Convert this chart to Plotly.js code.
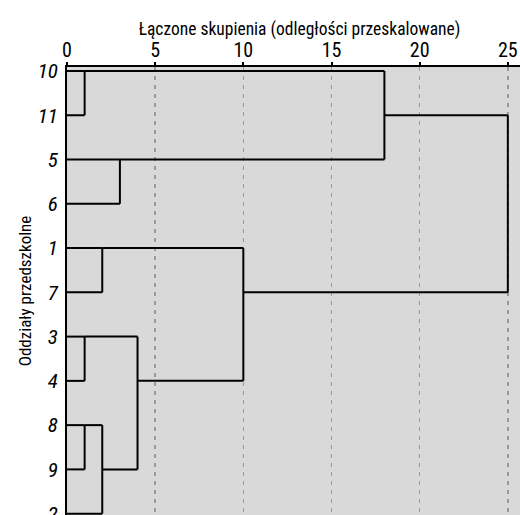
<!DOCTYPE html>
<html>
<head>
<meta charset="utf-8">
<script src="https://cdn.plot.ly/plotly-3.0.1.min.js"></script>
<style>html,body{margin:0;padding:0;background:#fff;overflow:hidden}#chart{width:520px;height:515px}</style>
</head>
<body>
<div id="chart"></div>
<script>
// Leaf labels in display order (top to bottom)
const leafLabels = ['10','11','5','6','1','7','3','4','8','9','2'];
// Merges: [left cluster, right cluster, distance, row where merged cluster is drawn]
const mergeLeft   = ['10','3','8','1','C','5','B','D','A','I'];
const mergeRight  = ['11','4','9','7','2','6','E','G','F','H'];
const mergeName   = ['A','B','C','D','E','F','G','H','I','J'];
const mergeDist   = [1, 1, 1, 2, 2, 3, 4, 10, 18, 25];
const mergeRowOf  = ['10','3','8','1','9','5','4','7','11', null];
const xTicks = [0, 5, 10, 15, 20, 25];

const FONT = '"Roboto Condensed", "DejaVu Sans Condensed", sans-serif';

const clusters = {};
leafLabels.forEach((l, i) => { clusters[l] = {y: i, h: 0}; });

const xs = [], ys = [];
function seg(x0, y0, x1, y1) { xs.push(x0, x1, null); ys.push(y0, y1, null); }
for (let k = 0; k < mergeName.length; k++) {
  const a = clusters[mergeLeft[k]], b = clusters[mergeRight[k]], d = mergeDist[k];
  seg(a.h, a.y, d, a.y);
  seg(b.h, b.y, d, b.y);
  seg(d, a.y, d, b.y);
  const r = mergeRowOf[k];
  clusters[mergeName[k]] = {y: r === null ? (a.y + b.y) / 2 : leafLabels.indexOf(r), h: d};
}

const trace = {
  type: 'scatter', mode: 'lines', x: xs, y: ys,
  line: {color: '#000', width: 2}, hoverinfo: 'skip', showlegend: false, cliponaxis: false
};
// empty helper trace so the tick-mark axis (x2) gets drawn
const tickTrace = {type: 'scatter', mode: 'lines', x: [null], y: [null], xaxis: 'x2', yaxis: 'y',
  hoverinfo: 'skip', showlegend: false};

const layout = {
  width: 520, height: 515,
  margin: {l: 67, r: 0, t: 67, b: 0},
  paper_bgcolor: '#fff', plot_bgcolor: '#d9d9d9',
  font: {family: FONT, color: '#000'},
  title: {text: 'Łączone skupienia (odległości przeskalowane)', font: {family: FONT, size: 17.5, color: '#000'},
          x: 0.576, xanchor: 'center', y: 0.943, yanchor: 'middle'},
  xaxis: {
    side: 'top', range: [0, 25.69], tickvals: xTicks, ticktext: xTicks.map(String),
    showline: true, linecolor: '#000', linewidth: 2,
    ticks: '',
    tickfont: {family: FONT, size: 20, color: '#000'},
    showgrid: true, gridcolor: '#999', gridwidth: 1.5, griddash: '4px,5px',
    zeroline: false, fixedrange: true, ticklabeloverflow: 'allow'
  },
  xaxis2: {
    overlaying: 'x', matches: 'x', anchor: 'y', side: 'top', range: [0, 25.69], tickvals: xTicks,
    showticklabels: false, showline: false, showgrid: false, zeroline: false,
    ticks: 'outside', ticklen: 4, tickcolor: '#000', tickwidth: 2, fixedrange: true
  },
  yaxis: {
    range: [10.03, -0.09], tickvals: leafLabels.map((_, i) => i), ticktext: leafLabels,
    showline: true, linecolor: '#000', linewidth: 2,
    ticks: 'outside', ticklen: 3, tickcolor: 'rgba(0,0,0,0)',
    tickfont: {family: FONT, size: 21, color: '#000', style: 'italic'},
    showgrid: false, zeroline: false, fixedrange: true, ticklabeloverflow: 'allow',
    title: {text: 'Oddziały przedszkolne', font: {family: FONT, size: 17, color: '#000'}, standoff: 2}
  }
};

Plotly.newPlot('chart', [trace, tickTrace], layout, {displayModeBar: false, staticPlot: true});
</script>
</body>
</html>
